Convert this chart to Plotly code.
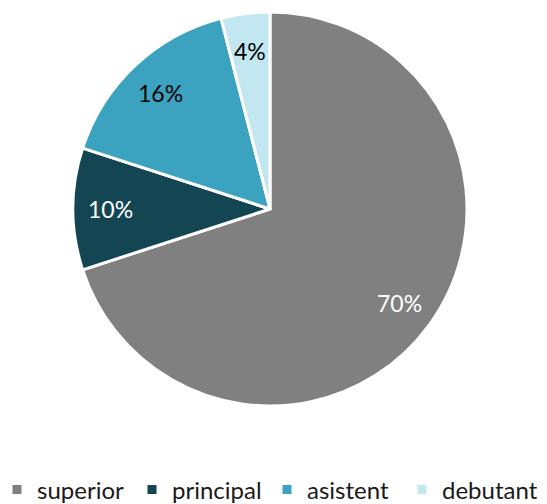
import math
import plotly.graph_objects as go

# shares by rank
labels = ["superior", "principal", "asistent", "debutant"]
values = [70, 10, 16, 4]
colors = ["#808080", "#134652", "#3ba2c0", "#c2e7f0"]
text_colors = ["white", "white", "black", "black"]

W, H = 547, 504
# the page adds an 8px body margin, so everything is shifted up/left by that
top = 4
plot_h = 394
bottom = H - top - plot_h
dom_x = [0, 524 / W]

fig = go.Figure()

fig.add_trace(go.Pie(
  labels = labels,
  values = values,
  sort = False,
  direction = "clockwise",
  rotation = 0,
  marker = {"colors": colors, "line": {"color": "white", "width": 3}},
  textinfo = "none",
  domain = {"x": dom_x, "y": [0, 1]},
  hoverinfo = "label+percent"
))

# Put the percent labels further out, like the original chart does
cx = (dom_x[0] + dom_x[1]) / 2 * W
cy = plot_h / 2
radius = min((dom_x[1] - dom_x[0]) * W, plot_h) / 2
label_r = 0.81 * radius
total = sum(values)
cum = 0
for v, c in zip(values, text_colors):
  ang = 2 * math.pi * (cum + v / 2) / total
  cum += v
  fig.add_annotation(
    x = (cx + label_r * math.sin(ang)) / W,
    y = (cy + label_r * math.cos(ang)) / plot_h,
    xref = "paper", yref = "paper",
    xanchor = "center", yanchor = "middle",
    text = f"{round(100 * v / total)}%",
    showarrow = False,
    font = {"size": 23, "color": c, "family": "Lato"}
  )

fig.update_layout(
  width = W,
  height = H,
  margin = {"l": 0, "r": 0, "t": top, "b": bottom, "autoexpand": False},
  paper_bgcolor = "white",
  font = {"family": "Lato", "color": "#404040"},
  showlegend = True,
  legend = {
    "orientation": "h",
    "x": -11 / W,
    "xanchor": "left",
    "y": -(482 - (top + plot_h)) / plot_h,
    "yanchor": "middle",
    "font": {"size": 24, "color": "#1a1a1a"},
    "itemwidth": 30,
    "entrywidth": 90,
    "entrywidthmode": "pixels"
  }
)

fig.write_html("out.html")
